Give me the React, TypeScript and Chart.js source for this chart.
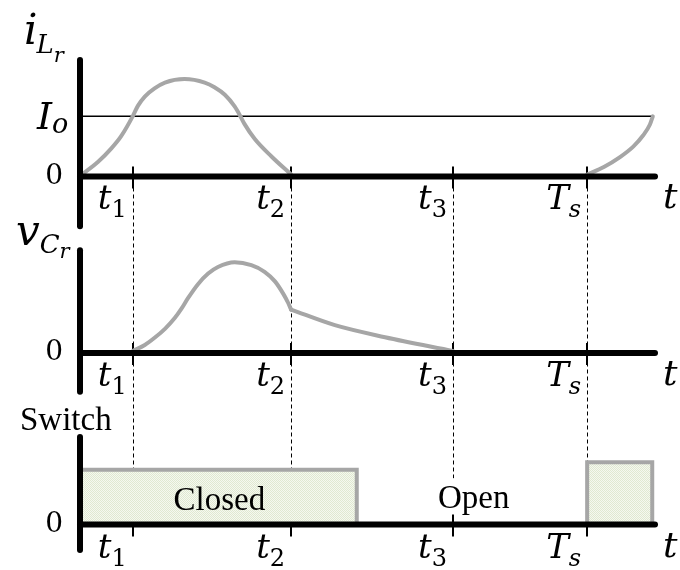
import { useEffect, useRef } from "react";
import { Chart, registerables } from "chart.js";

Chart.register(...registerables);

// ---- time axis (normalised units, one switching period ends at Ts) ----
const tMax = 10;
const tickTimes = [0.88, 3.63, 6.44, 8.77];
const tickMain = ["t", "t", "t", "T"];
const tickSub = ["1", "2", "3", "s"];

// ---- resonant inductor current i_Lr ----
const iLTime = [0, 0.28, 0.51, 0.68, 0.88, 0.97, 1.09, 1.26, 1.44, 1.78, 2.13, 2.3, 2.48, 2.65, 2.74, 2.82, 3.0, 3.29, 3.63];
const iLValue = [0, 0.22, 0.45, 0.66, 1.0, 1.18, 1.34, 1.48, 1.58, 1.64, 1.58, 1.5, 1.37, 1.17, 1.02, 0.87, 0.61, 0.31, 0];
const iLNextTime = [8.77, 9.06, 9.34, 9.57, 9.74, 9.86, 9.91];
const iLNextValue = [0, 0.13, 0.3, 0.48, 0.67, 0.86, 1.0];
const ioLevel = 1;
const ioEnd = 9.91;

// ---- resonant capacitor voltage v_Cr ----
const vCHumpTime = [0.88, 1.09, 1.26, 1.44, 1.61, 1.73, 1.84, 2.01, 2.19, 2.36, 2.65, 2.94, 3.17, 3.35, 3.49, 3.58, 3.63];
const vCHumpValue = [0, 0.1, 0.22, 0.37, 0.55, 0.71, 0.88, 1.11, 1.29, 1.4, 1.48, 1.43, 1.32, 1.16, 0.96, 0.8, 0.69];
const vCDecayTime = [3.63, 4.39, 5.26, 6.44];
const vCDecayValue = [0.69, 0.43, 0.23, 0];

// ---- switch state ----
const switchOnEnd = 4.77;
const switchOnLevel = 1;
const switchNextEnd = 9.9;
const switchNextLevel = 1.14;
const guideEndLevel = [switchOnLevel, switchOnLevel, 0.84, switchNextLevel];
const openLabelTime = 6.8;

const mathFont = '"DejaVu Serif"';
const textFont = '"Liberation Serif"';
const curveGray = "#a6a6a6";

type Part = { text: string; font: string; dy?: number; dx?: number };

function partsWidth(ctx: CanvasRenderingContext2D, parts: Part[]) {
  let w = 0;
  for (const p of parts) {
    ctx.font = p.font;
    w += ctx.measureText(p.text).width + (p.dx || 0);
  }
  return w;
}

function drawParts(ctx: CanvasRenderingContext2D, x: number, y: number, parts: Part[]) {
  let cx = x;
  for (const p of parts) {
    ctx.font = p.font;
    cx += p.dx || 0;
    ctx.fillText(p.text, cx, y + (p.dy || 0));
    cx += ctx.measureText(p.text).width;
  }
}

const pts = (xs: number[], ys: number[]) => xs.map((x, i) => ({ x, y: ys[i] }));

// vertical extent of each panel's y axis line, in that panel's units
const panels = [
  { id: "yI", top: 1.97, bottom: -0.89 },
  { id: "yV", top: 1.68, bottom: -0.68 },
  { id: "yS", top: 1.62, bottom: -0.52 },
];

const timingPlugin = {
  id: "timingDiagram",
  beforeDatasetsDraw(chart: any) {
    const { ctx, scales } = chart;
    const xs = scales.x;
    ctx.save();
    ctx.strokeStyle = "#000";
    // dashed guides running through all three panels
    ctx.lineWidth = 1;
    ctx.setLineDash([4, 3]);
    const guideTop = scales.yI.getPixelForValue(0) + 13;
    tickTimes.forEach((t, i) => {
      const px = Math.round(xs.getPixelForValue(t)) + 0.5;
      ctx.beginPath();
      ctx.moveTo(px, guideTop);
      ctx.lineTo(px, scales.yS.getPixelForValue(guideEndLevel[i]));
      ctx.stroke();
    });
    ctx.setLineDash([]);
    // tick marks on each time axis
    ctx.lineWidth = 2;
    for (const p of panels) {
      const ay = scales[p.id].getPixelForValue(0) + 2;
      for (const t of tickTimes) {
        const px = Math.round(xs.getPixelForValue(t));
        ctx.beginPath();
        ctx.moveTo(px, ay - 10);
        ctx.lineTo(px, ay + 12);
        ctx.stroke();
      }
    }
    ctx.restore();
  },
  afterDatasetsDraw(chart: any) {
    const { ctx, scales } = chart;
    const xs = scales.x;
    const ax = xs.getPixelForValue(0) - 2;
    const xEnd = xs.getPixelForValue(tMax) - 3;
    ctx.save();
    ctx.strokeStyle = "#000";
    ctx.fillStyle = "#000";
    ctx.lineWidth = 6;
    ctx.lineCap = "round";
    ctx.textBaseline = "alphabetic";

    const tickFont = `italic 34px ${mathFont}`;
    for (const p of panels) {
      const ys = scales[p.id];
      const ay = ys.getPixelForValue(0) + 2;
      // axes
      ctx.beginPath();
      ctx.moveTo(ax, ys.getPixelForValue(p.top));
      ctx.lineTo(ax, ys.getPixelForValue(p.bottom));
      ctx.stroke();
      ctx.beginPath();
      ctx.moveTo(ax, ay);
      ctx.lineTo(xEnd, ay);
      ctx.stroke();
      // zero label
      ctx.font = `28px ${mathFont}`;
      ctx.textAlign = "right";
      ctx.textBaseline = "middle";
      ctx.fillText("0", ax - 17, ay);
      ctx.textAlign = "left";
      ctx.textBaseline = "alphabetic";
      // time tick labels
      tickTimes.forEach((t, i) => {
        const sub = tickSub[i];
        const subFont = /\d/.test(sub) ? `24px ${mathFont}` : `italic 24px ${mathFont}`;
        const parts: Part[] = [
          { text: tickMain[i], font: tickFont },
          { text: sub, font: subFont, dy: 8 },
        ];
        const w = partsWidth(ctx, parts);
        drawParts(ctx, xs.getPixelForValue(t) - 6 - w, ay + 33, parts);
      });
      // axis name
      ctx.font = `italic 36px ${mathFont}`;
      ctx.fillText("t", xEnd + 8, ay + 32);
    }

    // vertical axis names
    const yI = scales.yI;
    const yV = scales.yV;
    const yS = scales.yS;
    drawParts(ctx, ax - 56, yI.getPixelForValue(panels[0].top) - 16, [
      { text: "i", font: `italic 42px ${mathFont}` },
      { text: "L", font: `italic 26px ${mathFont}`, dy: 9, dx: -1 },
      { text: "r", font: `italic 21px ${mathFont}`, dy: 18 },
    ]);
    drawParts(ctx, ax - 43, yI.getPixelForValue(ioLevel) + 13, [
      { text: "I", font: `italic 38px ${mathFont}` },
      { text: "o", font: `italic 27px ${mathFont}`, dy: 4 },
    ]);
    drawParts(ctx, ax - 64, yV.getPixelForValue(panels[1].top) - 5, [
      { text: "v", font: `italic 42px ${mathFont}` },
      { text: "C", font: `italic 26px ${mathFont}`, dy: 8 },
      { text: "r", font: `italic 21px ${mathFont}`, dy: 13 },
    ]);
    ctx.font = `33px ${textFont}`;
    ctx.fillText("Switch", ax - 60, yS.getPixelForValue(panels[2].top) - 7);

    // switch state names
    const sy = yS.getPixelForValue(0);
    ctx.textAlign = "center";
    ctx.fillText("Closed", xs.getPixelForValue(switchOnEnd / 2), sy - 13);
    ctx.fillText("Open", xs.getPixelForValue(openLabelTime), sy - 15);
    ctx.restore();
  },
};

function makeShade(): CanvasPattern | string {
  const c = document.createElement("canvas");
  c.width = 2;
  c.height = 2;
  const g = c.getContext("2d");
  if (!g) return "#ebf1e2";
  g.fillStyle = "#f5f8f0";
  g.fillRect(0, 0, 2, 2);
  g.fillStyle = "#e0e9d1";
  g.fillRect(0, 0, 1, 1);
  g.fillRect(1, 1, 1, 1);
  const pat = g.createPattern(c, "repeat");
  return pat || "#ebf1e2";
}

export default function App() {
  const ref = useRef<HTMLCanvasElement>(null);

  useEffect(() => {
    const canvas = ref.current;
    if (!canvas) return;
    const shade = makeShade();
    const curve = {
      borderColor: curveGray,
      borderWidth: 4,
      pointRadius: 0,
      cubicInterpolationMode: "monotone" as const,
      borderCapStyle: "round" as const,
      borderJoinStyle: "round" as const,
      fill: false,
      order: 1,
    };
    const state = {
      borderColor: curveGray,
      borderWidth: 4,
      pointRadius: 0,
      borderJoinStyle: "miter" as const,
      fill: "origin" as const,
      backgroundColor: shade as any,
      yAxisID: "yS",
      order: 2,
    };
    const chart = new Chart(canvas, {
      type: "line",
      data: {
        datasets: [
          {
            label: "Io",
            data: [
              { x: 0, y: ioLevel },
              { x: ioEnd, y: ioLevel },
            ],
            yAxisID: "yI",
            borderColor: "#000",
            borderWidth: 1.5,
            pointRadius: 0,
            fill: false,
            order: 3,
          },
          { label: "iLr", data: pts(iLTime, iLValue), yAxisID: "yI", ...curve },
          { label: "iLr next", data: pts(iLNextTime, iLNextValue), yAxisID: "yI", ...curve },
          { label: "vCr", data: pts(vCHumpTime, vCHumpValue), yAxisID: "yV", ...curve },
          { label: "vCr decay", data: pts(vCDecayTime, vCDecayValue), yAxisID: "yV", ...curve },
          {
            label: "Closed",
            data: [
              { x: 0, y: switchOnLevel },
              { x: switchOnEnd, y: switchOnLevel },
              { x: switchOnEnd, y: 0 },
            ],
            ...state,
          },
          {
            label: "Closed next",
            data: [
              { x: tickTimes[3], y: 0 },
              { x: tickTimes[3], y: switchNextLevel },
              { x: switchNextEnd, y: switchNextLevel },
              { x: switchNextEnd, y: 0 },
            ],
            ...state,
          },
        ],
      },
      options: {
        responsive: false,
        animation: false,
        events: [],
        layout: { padding: { left: 82, right: 22, top: 0, bottom: 0 } },
        plugins: { legend: { display: false }, tooltip: { enabled: false } },
        scales: {
          x: { type: "linear", min: 0, max: tMax, display: false },
          yI: { type: "linear", min: -6.8, max: 3, display: false },
          yV: { type: "linear", min: -3.65, max: 5.85, display: false },
          yS: { type: "linear", min: -0.9, max: 9.9, display: false },
        },
      },
      plugins: [timingPlugin],
    });
    return () => chart.destroy();
  }, []);

  return (
    <div style={{ position: "absolute", left: 0, top: 0, width: 680, height: 570, background: "#fff" }}>
      <canvas ref={ref} width={680} height={570} style={{ display: "block", width: 680, height: 570 }} />
    </div>
  );
}
